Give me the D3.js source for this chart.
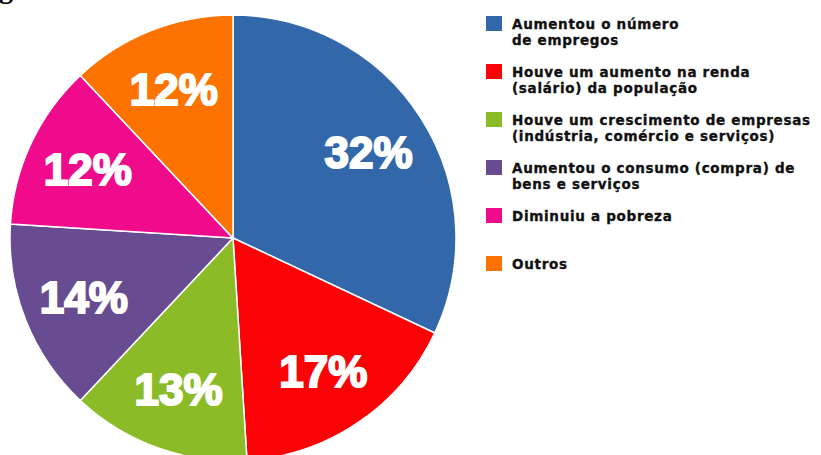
<!DOCTYPE html>
<html>

<head>
    <meta charset="utf-8">
    <script src="https://d3js.org/d3.v7.min.js"></script>
    <style>
        body {
            margin: 0;
            background: #fff;
            overflow: hidden;
        }

        svg {
            display: block;
        }
    </style>
</head>

<body>
    <div id="chart"></div>

    <script>
        // data
        var categories = [
            "Aumentou o número|de empregos",
            "Houve um aumento na renda|(salário) da população",
            "Houve um crescimento de empresas|(indústria, comércio e serviços)",
            "Aumentou o consumo (compra) de|bens e serviços",
            "Diminuiu a pobreza",
            "Outros"
        ];
        var values = [32, 17, 13, 14, 12, 12];
        var colors = ["#3267a9", "#fb0206", "#8cbb28", "#684c92", "#f00a8c", "#fe7300"];

        var width = 821,
            height = 455,
            cx = 233, cy = 238,
            radius = 223;

        var svg = d3.select("#chart")
            .append("svg")
            .attr("width", width)
            .attr("height", height);

        // clipped caption remnant at the top-left corner
        svg.append("text")
            .attr("x", -1)
            .attr("y", -2)
            .style("font-family", "'Liberation Serif', serif")
            .style("font-weight", "bold")
            .style("font-size", "28px")
            .text("g");

        var data = values.map(function (v, i) {
            return { name: categories[i], value: v, color: colors[i] };
        });

        var pie = d3.pie()
            .sort(null)
            .value(function (d) { return d.value; });

        var arc = d3.arc()
            .innerRadius(0)
            .outerRadius(radius);

        var labelArc = d3.arc()
            .innerRadius(radius * 0.72)
            .outerRadius(radius * 0.72);

        var g = svg.append("g")
            .attr("transform", "translate(" + cx + "," + cy + ")");

        var arcs = pie(data);

        g.selectAll("path")
            .data(arcs)
            .enter()
            .append("path")
            .attr("d", arc)
            .style("fill", function (d) { return d.data.color; })
            .style("stroke", "#fff")
            .style("stroke-width", 1.5);

        g.selectAll("text.pct")
            .data(arcs)
            .enter()
            .append("text")
            .attr("class", "pct")
            .attr("transform", function (d) { return "translate(" + labelArc.centroid(d) + ")"; })
            .attr("text-anchor", "middle")
            .attr("dy", "0.36em")
            .style("font-family", "'Liberation Sans', Arial, sans-serif")
            .style("font-weight", "bold")
            .style("font-size", "44px")
            .style("fill", "#fff")
            .style("stroke", "#fff")
            .style("stroke-width", 2)
            .text(function (d) { return d.data.value + "%"; });

        // legend
        var ly = d3.scalePoint()
            .domain(d3.range(data.length))
            .range([16, 256]);

        var legend = svg.append("g")
            .selectAll("g")
            .data(data)
            .enter()
            .append("g")
            .attr("transform", function (d, i) { return "translate(486," + ly(i) + ")"; });

        legend.append("rect")
            .attr("width", 16)
            .attr("height", 15)
            .style("fill", function (d) { return d.color; });

        legend.append("text")
            .attr("x", 26)
            .attr("y", 13)
            .style("font-family", "'DejaVu Sans', sans-serif")
            .style("font-weight", "bold")
            .style("font-size", "13.5px")
            .style("letter-spacing", "0.7px")
            .style("fill", "#111")
            .style("stroke", "#111")
            .style("stroke-width", 0.35)
            .selectAll("tspan")
            .data(function (d) { return d.name.split("|"); })
            .enter()
            .append("tspan")
            .attr("x", 26)
            .attr("dy", function (d, i) { return i ? 15.5 : 0; })
            .text(function (d) { return d; });
    </script>
</body>

</html>
